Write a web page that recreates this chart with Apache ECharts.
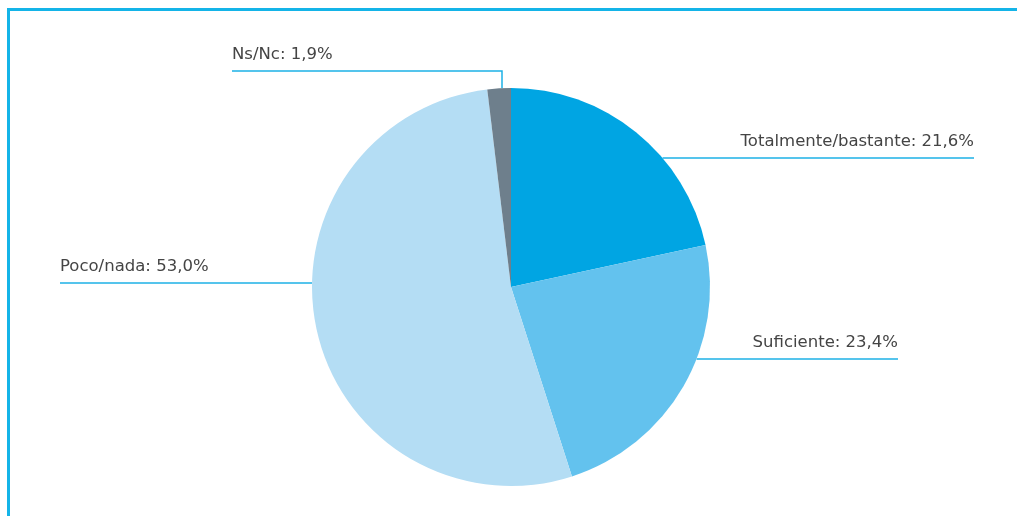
<!DOCTYPE html>
<html>
<head>
<meta charset="utf-8">
<script src="https://cdn.jsdelivr.net/npm/echarts@6/dist/echarts.min.js"></script>
<style>
html,body{margin:0;padding:0;background:#fff;}
#chart{width:1017px;height:516px;}
</style>
</head>
<body>
<div id="chart"></div>
<script>
// ---- Data ----
const categories = ['Totalmente/bastante', 'Suficiente', 'Poco/nada', 'Ns/Nc'];
const values = [21.6, 23.4, 53.0, 1.9];
const valueLabels = ['21,6%', '23,4%', '53,0%', '1,9%'];

// ---- Styles / layout ----
const colors = ['#00a5e3', '#63c2ee', '#b4ddf4', '#6e7f8c'];
const lineColor = '#1cb1e6';
const CX = 511, CY = 287, R = 199;
// label guide layout per slice (layout, not data)
const guides = [
  { side: 'right', lineY: 158, endX: 974 },
  { side: 'right', lineY: 359, endX: 898 },
  { side: 'left', lineY: 283, endX: 60 },
  { side: 'top', lineX: 502, lineY: 71, endX: 232 }
];

const chart = echarts.init(document.getElementById('chart'), null, { renderer: 'canvas' });

const option = {
  animation: false,
  backgroundColor: '#ffffff',
  graphic: [
    { type: 'line', shape: { x1: 7, y1: 9.5, x2: 1017, y2: 9.5 }, style: { stroke: '#14b4e8', lineWidth: 3 } },
    { type: 'line', shape: { x1: 8.5, y1: 8, x2: 8.5, y2: 516 }, style: { stroke: '#14b4e8', lineWidth: 3 } }
  ],
  series: [{
    type: 'pie',
    center: [CX, CY],
    radius: R,
    startAngle: 90,
    clockwise: true,
    silent: true,
    data: categories.map((c, i) => ({ name: c, value: values[i], itemStyle: { color: colors[i] } })),
    label: {
      show: true,
      position: 'outside',
      formatter: p => categories[p.dataIndex] + ': ' + valueLabels[p.dataIndex],
      fontFamily: 'DejaVu Sans',
      fontSize: 16.5,
      color: '#444444'
    },
    labelLine: {
      show: true,
      smooth: false,
      length: 10,
      length2: 10,
      lineStyle: { color: lineColor, width: 1.5 }
    },
    labelLayout: function (params) {
      const g = guides[params.dataIndex];
      let pts;
      let res;
      if (g.side === 'top') {
        const dx = g.lineX - CX;
        const y0 = CY - Math.sqrt(R * R - dx * dx);
        pts = [[g.lineX, y0], [g.lineX, g.lineY], [g.endX, g.lineY]];
        res = { x: g.endX, y: g.lineY - 8, align: 'left', verticalAlign: 'bottom' };
      } else {
        const dy = g.lineY - CY;
        const dx = Math.sqrt(R * R - dy * dy);
        const x0 = g.side === 'right' ? CX + dx : CX - dx;
        pts = [[x0, g.lineY], [x0, g.lineY], [g.endX, g.lineY]];
        res = { x: g.endX, y: g.lineY - 8, align: g.side === 'right' ? 'right' : 'left', verticalAlign: 'bottom' };
      }
      res.labelLinePoints = pts;
      return res;
    }
  }]
};
chart.setOption(option);
</script>
</body>
</html>
